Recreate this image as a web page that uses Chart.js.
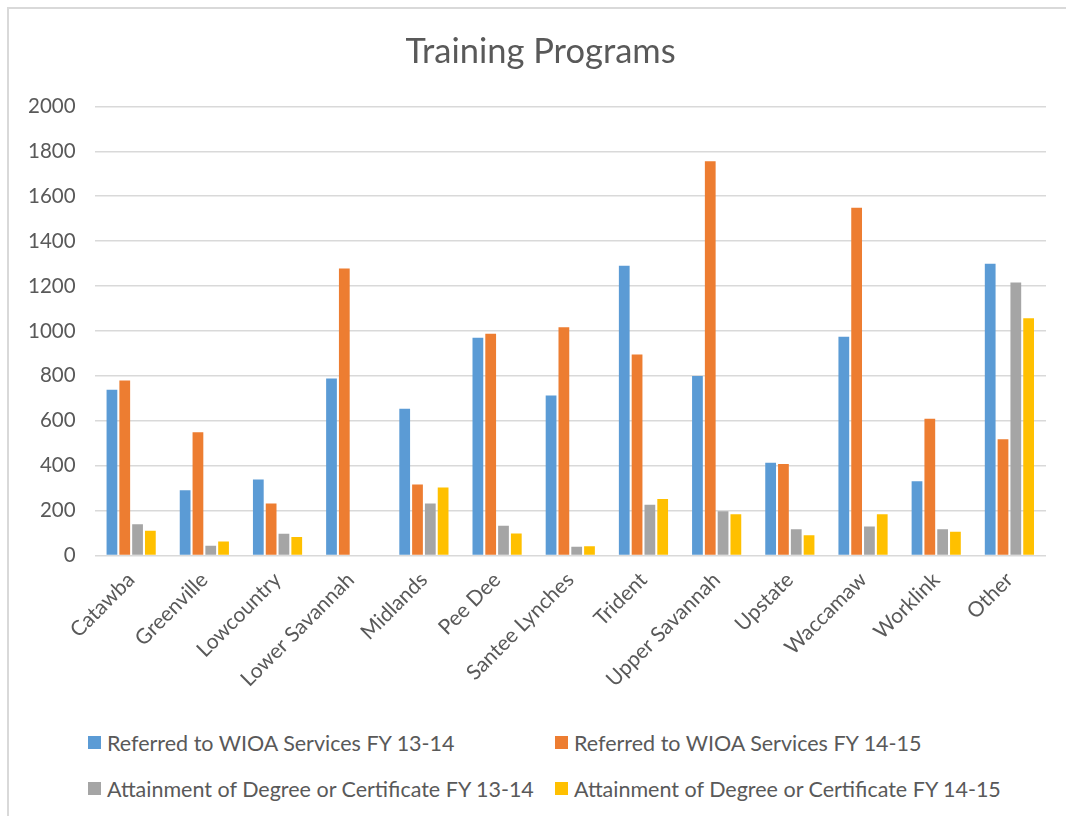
<!DOCTYPE html>
<html>
<head>
<meta charset="utf-8">
<script src="https://cdn.jsdelivr.net/npm/chart.js@4"></script>
<style>
  body { margin: 0; background: #fff; font-family: Lato, "Open Sans", sans-serif; }
  #frame { position: absolute; left: 7px; top: 7px; width: 1059px; height: 809px;
           border-left: 2px solid #d9d9d9; border-top: 2px solid #d9d9d9; }
  #wrap { position: absolute; left: 0; top: 0; width: 1057px; height: 716px; }
  #legend { position: absolute; left: 79px; top: 721px; width: 970px;
            display: grid; grid-template-columns: 467px 480px; row-gap: 21px;
            color: #595959; font-size: 21.5px; }
  .item { display: flex; align-items: center; height: 25px; white-space: nowrap; }
  .box { width: 13px; height: 13px; margin-right: 6px; }
</style>
</head>
<body>
<div id="frame">
  <div id="wrap"><canvas id="myChart"></canvas></div>
  <div id="legend"></div>
</div>
<script>
const categories = ['Catawba', 'Greenville', 'Lowcountry', 'Lower Savannah', 'Midlands', 'Pee Dee',
  'Santee Lynches', 'Trident', 'Upper Savannah', 'Upstate', 'Waccamaw', 'Worklink', 'Other'];
const referred1314 = [738, 291, 339, 788, 653, 970, 713, 1290, 799, 413, 974, 331, 1299];
const referred1415 = [779, 549, 232, 1278, 316, 987, 1016, 895, 1756, 407, 1549, 609, 518];
const attain1314 = [139, 43, 97, 0, 232, 132, 39, 226, 197, 117, 129, 117, 1216];
const attain1415 = [110, 62, 82, 0, 303, 98, 41, 252, 184, 90, 184, 106, 1057];
const seriesNames = ['Referred to WIOA Services FY 13-14', 'Referred to WIOA Services FY 14-15',
  'Attainment of Degree or Certificate FY 13-14', 'Attainment of Degree or Certificate FY 14-15'];
const colors = ['#5B9BD5', '#ED7D31', '#A5A5A5', '#FFC000'];

const textColor = '#595959';
const fontFamily = 'Lato, "Open Sans", sans-serif';

// nudge the title a bit right, like the original
const titleShift = {
    id: 'titleShift',
    afterLayout: (chart) => { if (chart.titleBlock) chart.titleBlock.left += 26; }
};

const renderChart = () => {
    const ctx = document.getElementById('myChart');
    const values = [referred1314, referred1415, attain1314, attain1415];
    new Chart(ctx, {
        type: 'bar',
        data: {
            labels: categories,
            datasets: values.map((v, i) => ({
                label: seriesNames[i],
                data: v,
                backgroundColor: colors[i],
                categoryPercentage: 0.7,
                barPercentage: 0.84
            }))
        },
        plugins: [titleShift],
        options: {
            responsive: true,
            maintainAspectRatio: false,
            animation: false,
            layout: { padding: { left: 0, right: 20, top: 0, bottom: 29 } },
            plugins: {
                legend: { display: false },
                tooltip: { enabled: false },
                title: {
                    display: true,
                    text: 'Training Programs',
                    color: textColor,
                    font: { family: fontFamily, size: 34.5, weight: 'normal', lineHeight: 1.2 },
                    padding: { top: 22, bottom: 34 }
                }
            },
            scales: {
                x: {
                    grid: { display: false },
                    border: { display: false },
                    ticks: {
                        color: textColor,
                        font: { family: fontFamily, size: 21 },
                        maxRotation: 45,
                        minRotation: 45,
                        padding: 4
                    }
                },
                y: {
                    min: 0,
                    max: 2000,
                    border: { display: false },
                    grid: { color: '#d9d9d9', lineWidth: 1.5, drawTicks: false },
                    ticks: {
                        stepSize: 200,
                        color: textColor,
                        font: { family: fontFamily, size: 20.5 },
                        padding: 19,
                        callback: (v) => String(v)
                    }
                }
            }
        }
    });

    const legend = document.getElementById('legend');
    seriesNames.forEach((name, i) => {
        const item = document.createElement('div');
        item.className = 'item';
        item.innerHTML = '<span class="box" style="background:' + colors[i] + '"></span><span>' + name + '</span>';
        legend.appendChild(item);
    });
}
renderChart();
</script>
</body>
</html>
